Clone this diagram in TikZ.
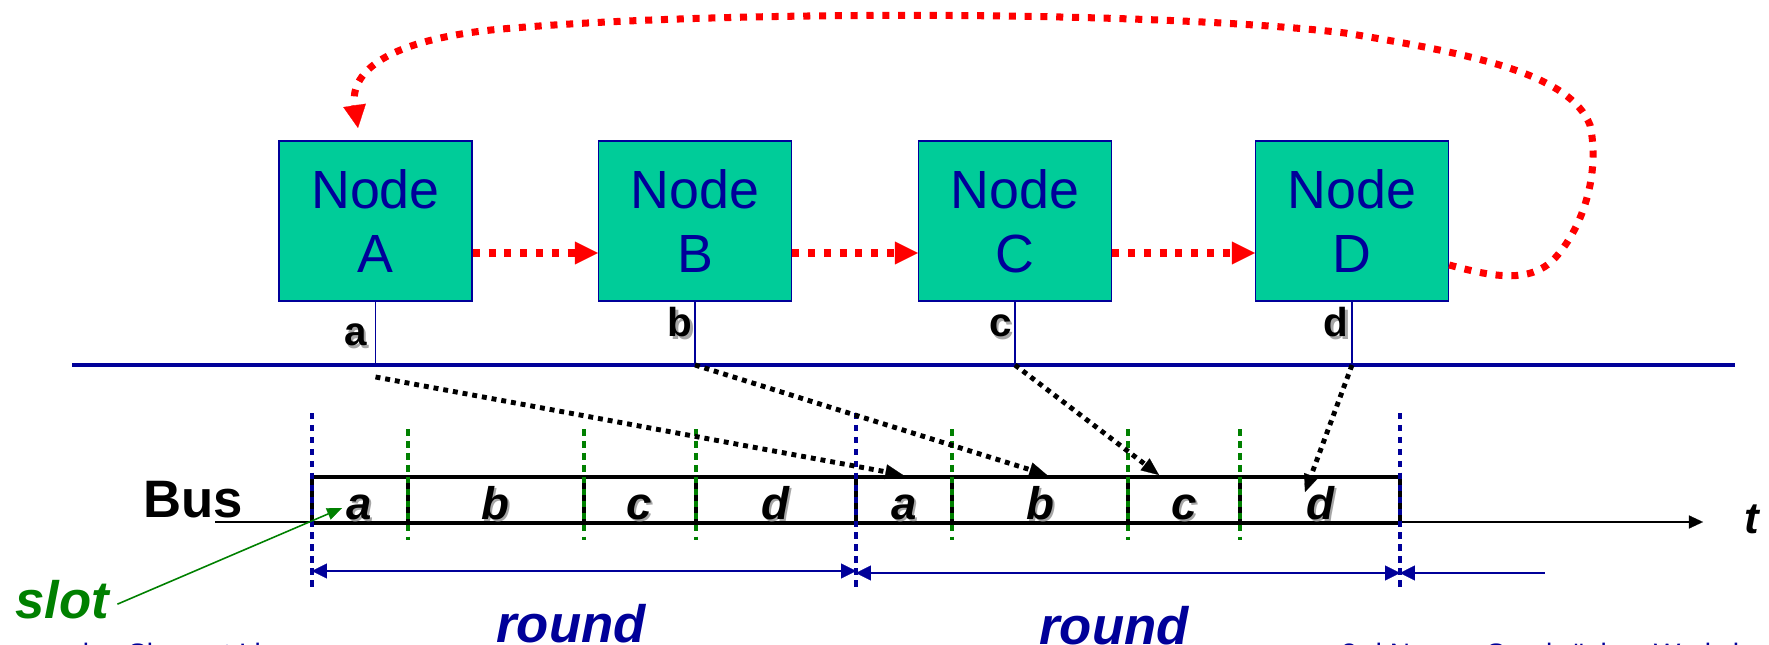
\documentclass[tikz,border=0pt]{standalone}
\usepackage{fontspec}
\setmainfont{Liberation Sans}
\usetikzlibrary{arrows.meta, calc, positioning}
\definecolor{netgreen}{RGB}{0,204,153}
\definecolor{netnavy}{RGB}{0,0,153}
\definecolor{netred}{RGB}{255,0,0}
\definecolor{slotgreen}{RGB}{0,128,0}
\newcommand{\shadowed}[1]{\rlap{\hspace{1.3pt}\raisebox{-1.3pt}{\textcolor{black!35}{#1}}}#1}

\tikzset{
  netnode/.style={draw=netnavy, line width=0.8pt, fill=netgreen, text=netnavy,
    minimum width=3.86cm, minimum height=3.2cm, inner sep=0pt, align=center,
    font=\fontsize{30.6}{36.3}\selectfont},
  tokenflow/.style={netred, line width=4pt, dash pattern=on 4pt off 5pt,
    -{Triangle[length=13pt,width=13pt,line width=0.1pt]}},
  msgflow/.style={black, line width=2.8pt, dash pattern=on 2.8pt off 2.8pt,
    -{Triangle[length=10pt,width=8.5pt,line width=0.1pt]}},
  busline/.style={netnavy, line width=2.8pt},
  stub/.style={netnavy, line width=0.7pt},
  stublbl/.style={inner sep=0pt, font=\fontsize{23}{27}\selectfont\bfseries},
  barline/.style={black, line width=2pt},
  slotsep/.style={slotgreen, line width=2.2pt, dash pattern=on 3.8pt off 3pt},
  roundsep/.style={netnavy, line width=2.2pt, dash pattern=on 3.6pt off 3.2pt},
  slotlbl/.style={inner sep=0pt, anchor=base, font=\fontsize{26}{30}\selectfont\bfseries\itshape},
  span/.style={netnavy, line width=0.8pt, >={Triangle[length=8.5pt,width=8.5pt,line width=0.1pt]}},
  timeaxis/.style={black, line width=0.9pt, -{Triangle[length=8pt,width=7.5pt,line width=0.1pt]}},
  biglbl/.style={inner sep=0pt, font=\fontsize{30}{36}\selectfont\bfseries\itshape},
  footer/.style={inner sep=0pt, text=netnavy, font=\fontsize{16}{19}\selectfont}
}

\begin{document}
\begin{tikzpicture}[x=0.02cm, y=-0.02cm]
\useasboundingbox (0,0) rectangle (1769,645);

% stations
\node[netnode] (A) at (375.5,221) {Node\\A};
\node[netnode] (B) at (695,221) {Node\\B};
\node[netnode] (C) at (1015,221) {Node\\C};
\node[netnode] (D) at (1352,221) {Node\\D};

% token passing
\draw[tokenflow] ([yshift=-0.64cm]A.east) -- ([yshift=-0.64cm]B.west);
\draw[tokenflow] ([yshift=-0.64cm]B.east) -- ([yshift=-0.64cm]C.west);
\draw[tokenflow] ([yshift=-0.64cm]C.east) -- ([yshift=-0.64cm]D.west);
\coordinate (loopend) at (358,128);
\draw[tokenflow] ([yshift=-0.88cm]D.east)
  .. controls (1490,276) and (1530,285) .. (1555,258)
  .. controls (1585,225) and (1600,170) .. (1590,125)
  .. controls (1570,75) and (1480,55) .. (1345,33)
  .. controls (1150,10) and (700,10) .. (491,30)
  .. controls (380,42) and (350,75) .. (loopend);

% bus
\coordinate (busL) at (72,365);
\coordinate (busR) at (1735,365);
\draw[busline] (busL) -- (busR);
\foreach \n in {A,B,C,D}
  \draw[stub] (\n.south) -- (\n.south |- busL);
\node[stublbl, anchor=base east] (la) at (367,346) {\shadowed{a}};
\node[stublbl, anchor=base east] (lb) at (693,337) {\shadowed{b}};
\node[stublbl, anchor=base east] (lc) at (1012,337) {\shadowed{c}};
\node[stublbl, anchor=base east] (ld) at (1349,337) {\shadowed{d}};

% time line
\coordinate (axisL) at (215,522);
\coordinate (axisR) at (1703,522);
\draw[timeaxis] (axisL) -- (axisR);
\draw[barline] (312,477) -- (1400,477);
\draw[barline] (312,523) -- (1400,523);
\foreach \x in {312,408,584,696,856,952,1128,1240,1400}
  \draw[barline] (\x,477) -- (\x,523);
\foreach \x in {408,584,696,952,1128,1240}
  \draw[slotsep] (\x,429) -- (\x,540);
\foreach \x in {312,856,1400}
  \draw[roundsep] (\x,413) -- (\x,587);
\foreach \x/\l [count=\i] in {359/a,495/b,639/c,775/d,904/a,1040/b,1184/c,1320/d}
  \node[slotlbl] (s\i) at (\x,519) {\shadowed{\l}};

\node[inner sep=0pt, anchor=base east, font=\fontsize{30}{36}\selectfont\bfseries] (bus) at (243,517) {Bus};
\node[biglbl, anchor=base west, font=\fontsize{25}{30}\selectfont\bfseries\itshape] (t) at (1744,533) {t};

% slots reached by the stations
\coordinate (ta) at (903,475);
\coordinate (tb) at (1047,475);
\coordinate (tc) at (1159,475);
\coordinate (td) at (1305,492);
\draw[msgflow] ([yshift=-0.24cm]A.south |- busL) -- (ta);
\draw[msgflow] (B.south |- busL) -- (tb);
\draw[msgflow] (C.south |- busL) -- (tc);
\draw[msgflow] (D.south |- busL) -- (td);

% rounds
\draw[span, <->] (312,571) -- (856,571);
\draw[span, <->] (856,573) -- (1400,573);
\draw[span, <-] (1400,573) -- (1545,573);
\node[biglbl, text=netnavy, anchor=base] (round1) at (571,642) {round};
\node[biglbl, text=netnavy, anchor=base] (round2) at (1114,644) {round};

% slot pointer
\node[biglbl, text=slotgreen, anchor=base west] (slot) at (15,618) {slot};
\coordinate (slotpt) at (342,508);
\draw[slotgreen, line width=0.9pt, -{Triangle[length=8.5pt,width=7pt,line width=0.1pt]}] ([xshift=0.16cm,yshift=-0.1cm]slot.east) -- (slotpt);

% footer
\node[footer, anchor=base east] (foot1) at (277,663) {cessing Simonet Lin};
\node[footer, anchor=base west] (foot2) at (1341,663) {3rd Nose -- Saarbrücken Workshop};
\end{tikzpicture}
\end{document}
